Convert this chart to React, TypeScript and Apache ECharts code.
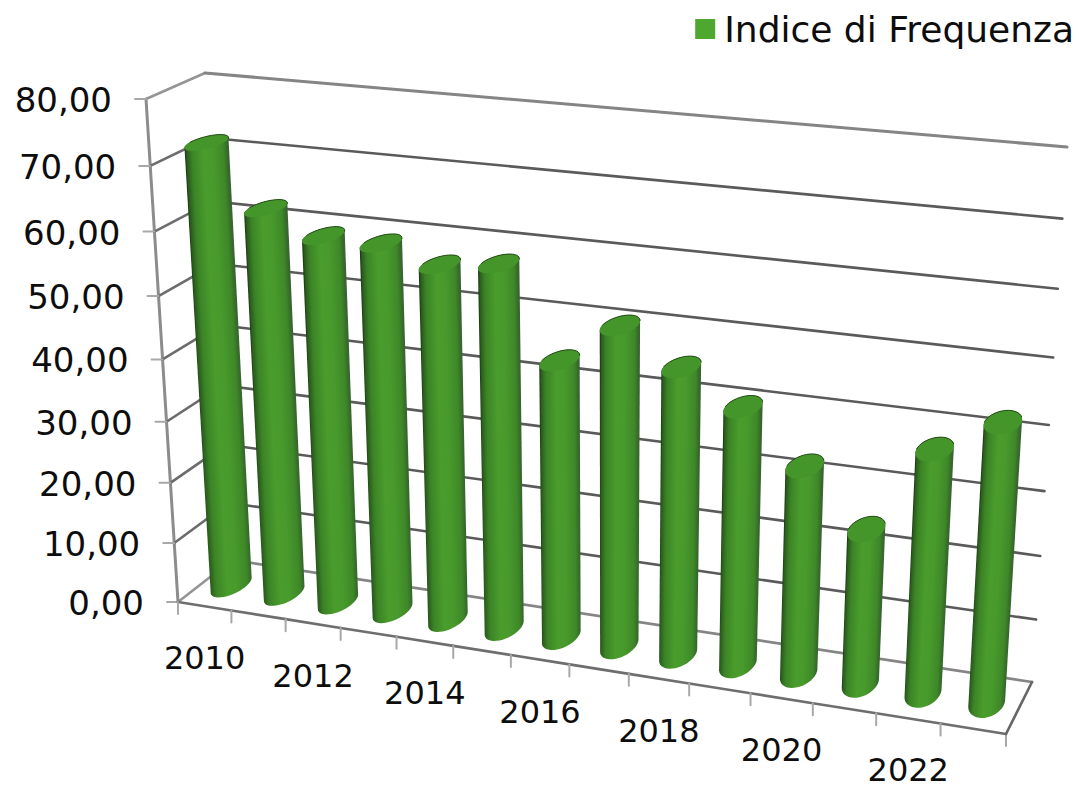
import React, { useEffect, useRef } from "react";
import * as echarts from "echarts";

const seriesName = "Indice di Frequenza";
const categories = ["2010","2011","2012","2013","2014","2015","2016","2017","2018","2019","2020","2021","2022","2023"];
const values = [71.8, 62.6, 59.3, 59.1, 56.8, 57.9, 44.2, 50.6, 45.4, 40.5, 32.7, 24.3, 37.7, 42.9];
const yTicks = [0, 10, 20, 30, 40, 50, 60, 70, 80];
const yMax = 80;
const FONT = '"DejaVu Sans"';

type P = [number, number];
// Screen corners of the 3D box's planes: bottom-left, bottom-right, top-right, top-left
const frontQuad: P[] = [[178, 602], [1006, 734], [1039, 179], [146, 99]];
const backQuad: P[] = [[232, 560], [1032, 682], [1067, 147], [205, 73]];

function homography(q: P[]) {
  const [[x0, y0], [x1, y1], [x2, y2], [x3, y3]] = q;
  const dx1 = x1 - x2, dx2 = x3 - x2, sx = x0 - x1 + x2 - x3;
  const dy1 = y1 - y2, dy2 = y3 - y2, sy = y0 - y1 + y2 - y3;
  const den = dx1 * dy2 - dx2 * dy1;
  const g = (sx * dy2 - dx2 * sy) / den, h = (dx1 * sy - sx * dy1) / den;
  const a = x1 - x0 + g * x1, b = x3 - x0 + h * x3, d = y1 - y0 + g * y1, e = y3 - y0 + h * y3;
  return (u: number, v: number): P => {
    const w = g * u + h * v + 1;
    return [(a * u + b * v + x0) / w, (d * u + e * v + y0) / w];
  };
}
const hFront = homography(frontQuad);
const hBack = homography(backQuad);
// depth 0 = front plane, 1 = back wall
function project(u: number, v: number, depth: number): P {
  const f = hFront(u, v), b = hBack(u, v);
  return [f[0] + (b[0] - f[0]) * depth, f[1] + (b[1] - f[1]) * depth];
}

function hull(pts: P[]): P[] {
  const s = [...pts].sort((a, b) => a[0] - b[0] || a[1] - b[1]);
  const cross = (o: P, a: P, b: P) => (a[0] - o[0]) * (b[1] - o[1]) - (a[1] - o[1]) * (b[0] - o[0]);
  const lo: P[] = [], up: P[] = [];
  for (const p of s) { while (lo.length >= 2 && cross(lo[lo.length - 2], lo[lo.length - 1], p) <= 0) lo.pop(); lo.push(p); }
  for (const p of s.slice().reverse()) { while (up.length >= 2 && cross(up[up.length - 2], up[up.length - 1], p) <= 0) up.pop(); up.push(p); }
  return lo.slice(0, -1).concat(up.slice(0, -1));
}

const RX = 0.0186, RZ = 0.287, BAR_DEPTH = 0.5, N = 40;
const catStep = 1 / categories.length;

// grid covers the whole canvas, so the axes' pixel output is turned into unit fractions here
function toUnit(api: any, x: number, y: number): [number, number] {
  const c = api.coord([x, y]);
  return [c[0] / api.getWidth(), 1 - c[1] / api.getHeight()];
}

function line(a: P, b: P, stroke: string, lineWidth: number) {
  return { type: "line", shape: { x1: a[0], y1: a[1], x2: b[0], y2: b[1] }, style: { stroke, lineWidth, lineCap: "round" }, silent: true };
}

function renderYTick(_: any, api: any) {
  const val = api.value(1);
  const [, v] = toUnit(api, 0, val);
  const edge = val === 0 || val === yMax;
  const colorBack = edge ? "#858585" : "#5a5a5a";
  const fl = project(0, v, 0), bl = project(0, v, 1), br = project(1, v, 1);
  const children: any[] = [
    line(fl, bl, edge ? "#959595" : "#6c6c6c", 2.6),
    line(bl, br, colorBack, val === yMax ? 3 : 2.6),
    line([fl[0] - 11, fl[1]], fl, "#a8a8a8", 2),
    {
      type: "text",
      style: {
        text: val.toFixed(2).replace(".", ","), x: fl[0] - 34, y: fl[1] + 1,
        fill: "#0d0d0d", font: `34px ${FONT}`, align: "right", verticalAlign: "middle",
      },
    },
  ];
  if (val === 0) children.push(line(fl, project(0, 1, 0), "#8c8c8c", 3));
  return { type: "group", children };
}

function renderXTick(_: any, api: any) {
  const i = api.value(0);
  const [uc] = toUnit(api, i, 0);
  const u0 = uc - catStep / 2, u1 = uc + catStep / 2;
  const children: any[] = [];
  const a = project(u0, 0, 0), b = project(u1, 0, 0);
  children.push(line(a, b, "#6e6e6e", 2.6));
  children.push(line(a, [a[0], a[1] + 12], "#a8a8a8", 2));
  if (i === categories.length - 1) {
    children.push(line(b, [b[0], b[1] + 12], "#a8a8a8", 2));
    children.push(line(b, project(1, 0, 1), "#666666", 2.6));
  }
  if (i % 2 === 0) {
    const c = project(uc, 0, 0);
    children.push({
      type: "text",
      style: {
        text: categories[i], x: c[0], y: c[1] + 52, fill: "#0d0d0d",
        font: `32px ${FONT}`, align: "center", verticalAlign: "middle",
      },
    });
  }
  return { type: "group", children };
}

function renderBar(_: any, api: any) {
  const i = api.value(0);
  const val = api.value(1);
  const [u, vTop] = toUnit(api, i, val);
  const [, v0] = toUnit(api, i, 0);
  const ring = (v: number): P[] => {
    const pts: P[] = [];
    for (let k = 0; k < N; k++) {
      const t = (k / N) * Math.PI * 2;
      pts.push(project(u + RX * Math.cos(t), v, BAR_DEPTH + RZ * Math.sin(t)));
    }
    return pts;
  };
  const top = ring(vTop), bottom = ring(v0);
  const body = hull(top.concat(bottom));
  const ct = project(u, vTop, BAR_DEPTH), cb = project(u, v0, BAR_DEPTH);
  const ax = ct[0] - cb[0], ay = ct[1] - cb[1];
  const len = Math.hypot(ax, ay);
  const nx = -ay / len, ny = ax / len;
  const sign = nx >= 0 ? 1 : -1;
  let lo = Infinity, hi = -Infinity;
  for (const p of body) {
    const s = sign * ((p[0] - ct[0]) * nx + (p[1] - ct[1]) * ny);
    if (s < lo) lo = s;
    if (s > hi) hi = s;
  }
  const gx = sign * nx, gy = sign * ny;
  const fill = new echarts.graphic.LinearGradient(
    ct[0] + gx * lo, ct[1] + gy * lo, ct[0] + gx * hi, ct[1] + gy * hi,
    [
      { offset: 0, color: "#17300f" },
      { offset: 0.04, color: "#2a5c1c" },
      { offset: 0.16, color: "#3b8426" },
      { offset: 0.42, color: "#4a9d2c" },
      { offset: 0.62, color: "#479a2b" },
      { offset: 0.86, color: "#3f8829" },
      { offset: 0.96, color: "#336a28" },
      { offset: 1, color: "#4a5a46" },
    ],
    true
  );
  const rim: P[] = [];
  for (let k = 4; k <= N / 2 + 1; k++) rim.push(top[k % N]);
  return {
    type: "group",
    children: [
      { type: "polygon", shape: { points: body }, style: { fill }, silent: true },
      { type: "polygon", shape: { points: top }, style: { fill: "#44962b" }, silent: true },
      { type: "polyline", shape: { points: rim }, style: { fill: "none", stroke: "#234a16", lineWidth: 1 }, silent: true },
    ],
  };
}

export default function App() {
  const ref = useRef<HTMLDivElement>(null);
  useEffect(() => {
    const chart = echarts.init(ref.current!, null, { renderer: "svg" });
    chart.setOption({
      animation: false,
      backgroundColor: "#ffffff",
      legend: {
        data: [seriesName],
        right: 0,
        top: 6,
        icon: "rect",
        itemWidth: 20,
        itemHeight: 20,
        textStyle: { fontFamily: FONT, fontSize: 36, color: "#0d0d0d", padding: [0, 0, 0, 4] },
      },
      grid: { left: 0, right: 0, top: 0, bottom: 0 },
      xAxis: { type: "category", data: categories, show: false },
      yAxis: { type: "value", min: 0, max: yMax, interval: 10, show: false },
      series: [
        { type: "custom", name: "grid", silent: true, z: 1, renderItem: renderYTick, data: yTicks.map((t) => [0, t]) },
        { type: "custom", name: "xaxis", silent: true, z: 2, renderItem: renderXTick, data: categories.map((_, i) => [i, 0]) },
        {
          type: "custom", name: seriesName, z: 3, silent: true, clip: false,
          itemStyle: { color: "#4EA72E" },
          renderItem: renderBar,
          data: values.map((v, i) => [i, v]),
        },
      ],
    });
    return () => chart.dispose();
  }, []);
  return <div ref={ref} style={{ position: "absolute", left: 0, top: 0, width: 1079, height: 789 }} />;
}
